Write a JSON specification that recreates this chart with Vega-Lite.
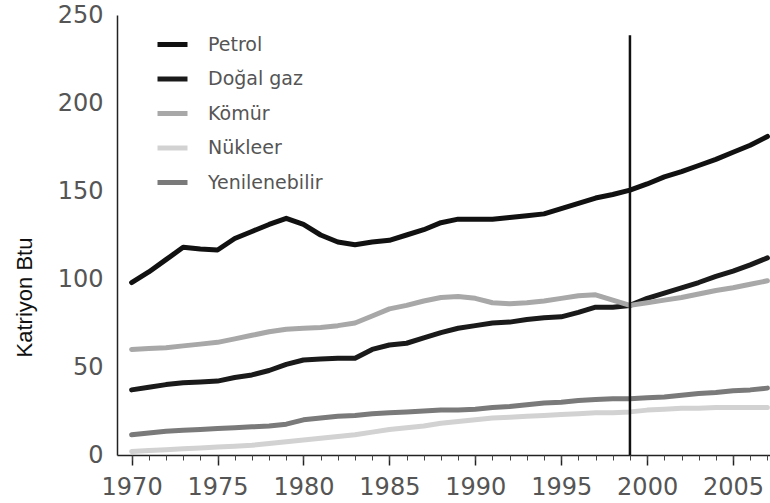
{
  "$schema": "https://vega.github.io/schema/vega-lite/v6.json",
  "width": 653,
  "height": 440,
  "autosize": {"type": "none"},
  "padding": {"left": 117, "top": 15, "right": 0, "bottom": 48},
  "background": "white",
  "config": {"view": {"stroke": null}, "font": "DejaVu Sans"},
  "datasets": {
    "enerji": [
      {"yil":1970,"kaynak":"Petrol","deger":98},{"yil":1971,"kaynak":"Petrol","deger":104},{"yil":1972,"kaynak":"Petrol","deger":111},{"yil":1973,"kaynak":"Petrol","deger":118},{"yil":1974,"kaynak":"Petrol","deger":117},{"yil":1975,"kaynak":"Petrol","deger":116.5},{"yil":1976,"kaynak":"Petrol","deger":123},{"yil":1977,"kaynak":"Petrol","deger":127},{"yil":1978,"kaynak":"Petrol","deger":131},{"yil":1979,"kaynak":"Petrol","deger":134.5},
      {"yil":1980,"kaynak":"Petrol","deger":131},{"yil":1981,"kaynak":"Petrol","deger":125},{"yil":1982,"kaynak":"Petrol","deger":121},{"yil":1983,"kaynak":"Petrol","deger":119.5},{"yil":1984,"kaynak":"Petrol","deger":121},{"yil":1985,"kaynak":"Petrol","deger":122},{"yil":1986,"kaynak":"Petrol","deger":125},{"yil":1987,"kaynak":"Petrol","deger":128},{"yil":1988,"kaynak":"Petrol","deger":132},{"yil":1989,"kaynak":"Petrol","deger":134},
      {"yil":1990,"kaynak":"Petrol","deger":134},{"yil":1991,"kaynak":"Petrol","deger":134},{"yil":1992,"kaynak":"Petrol","deger":135},{"yil":1993,"kaynak":"Petrol","deger":136},{"yil":1994,"kaynak":"Petrol","deger":137},{"yil":1995,"kaynak":"Petrol","deger":140},{"yil":1996,"kaynak":"Petrol","deger":143},{"yil":1997,"kaynak":"Petrol","deger":146},{"yil":1998,"kaynak":"Petrol","deger":148},{"yil":1999,"kaynak":"Petrol","deger":150.5},
      {"yil":2000,"kaynak":"Petrol","deger":154},{"yil":2001,"kaynak":"Petrol","deger":158},{"yil":2002,"kaynak":"Petrol","deger":161},{"yil":2003,"kaynak":"Petrol","deger":164.5},{"yil":2004,"kaynak":"Petrol","deger":168},{"yil":2005,"kaynak":"Petrol","deger":172},{"yil":2006,"kaynak":"Petrol","deger":176},{"yil":2007,"kaynak":"Petrol","deger":181},

      {"yil":1970,"kaynak":"Doğal gaz","deger":37},{"yil":1971,"kaynak":"Doğal gaz","deger":38.5},{"yil":1972,"kaynak":"Doğal gaz","deger":40},{"yil":1973,"kaynak":"Doğal gaz","deger":41},{"yil":1974,"kaynak":"Doğal gaz","deger":41.5},{"yil":1975,"kaynak":"Doğal gaz","deger":42},{"yil":1976,"kaynak":"Doğal gaz","deger":44},{"yil":1977,"kaynak":"Doğal gaz","deger":45.5},{"yil":1978,"kaynak":"Doğal gaz","deger":48},{"yil":1979,"kaynak":"Doğal gaz","deger":51.5},
      {"yil":1980,"kaynak":"Doğal gaz","deger":54},{"yil":1981,"kaynak":"Doğal gaz","deger":54.5},{"yil":1982,"kaynak":"Doğal gaz","deger":55},{"yil":1983,"kaynak":"Doğal gaz","deger":55},{"yil":1984,"kaynak":"Doğal gaz","deger":60},{"yil":1985,"kaynak":"Doğal gaz","deger":62.5},{"yil":1986,"kaynak":"Doğal gaz","deger":63.5},{"yil":1987,"kaynak":"Doğal gaz","deger":66.5},{"yil":1988,"kaynak":"Doğal gaz","deger":69.5},{"yil":1989,"kaynak":"Doğal gaz","deger":72},
      {"yil":1990,"kaynak":"Doğal gaz","deger":73.5},{"yil":1991,"kaynak":"Doğal gaz","deger":75},{"yil":1992,"kaynak":"Doğal gaz","deger":75.5},{"yil":1993,"kaynak":"Doğal gaz","deger":77},{"yil":1994,"kaynak":"Doğal gaz","deger":78},{"yil":1995,"kaynak":"Doğal gaz","deger":78.5},{"yil":1996,"kaynak":"Doğal gaz","deger":81},{"yil":1997,"kaynak":"Doğal gaz","deger":84},{"yil":1998,"kaynak":"Doğal gaz","deger":84},{"yil":1999,"kaynak":"Doğal gaz","deger":85},
      {"yil":2000,"kaynak":"Doğal gaz","deger":89},{"yil":2001,"kaynak":"Doğal gaz","deger":92},{"yil":2002,"kaynak":"Doğal gaz","deger":95},{"yil":2003,"kaynak":"Doğal gaz","deger":98},{"yil":2004,"kaynak":"Doğal gaz","deger":101.5},{"yil":2005,"kaynak":"Doğal gaz","deger":104.5},{"yil":2006,"kaynak":"Doğal gaz","deger":108},{"yil":2007,"kaynak":"Doğal gaz","deger":112},

      {"yil":1970,"kaynak":"Kömür","deger":60},{"yil":1971,"kaynak":"Kömür","deger":60.5},{"yil":1972,"kaynak":"Kömür","deger":61},{"yil":1973,"kaynak":"Kömür","deger":62},{"yil":1974,"kaynak":"Kömür","deger":63},{"yil":1975,"kaynak":"Kömür","deger":64},{"yil":1976,"kaynak":"Kömür","deger":66},{"yil":1977,"kaynak":"Kömür","deger":68},{"yil":1978,"kaynak":"Kömür","deger":70},{"yil":1979,"kaynak":"Kömür","deger":71.5},
      {"yil":1980,"kaynak":"Kömür","deger":72},{"yil":1981,"kaynak":"Kömür","deger":72.5},{"yil":1982,"kaynak":"Kömür","deger":73.5},{"yil":1983,"kaynak":"Kömür","deger":75},{"yil":1984,"kaynak":"Kömür","deger":79},{"yil":1985,"kaynak":"Kömür","deger":83},{"yil":1986,"kaynak":"Kömür","deger":85},{"yil":1987,"kaynak":"Kömür","deger":87.5},{"yil":1988,"kaynak":"Kömür","deger":89.5},{"yil":1989,"kaynak":"Kömür","deger":90},
      {"yil":1990,"kaynak":"Kömür","deger":89},{"yil":1991,"kaynak":"Kömür","deger":86.5},{"yil":1992,"kaynak":"Kömür","deger":86},{"yil":1993,"kaynak":"Kömür","deger":86.5},{"yil":1994,"kaynak":"Kömür","deger":87.5},{"yil":1995,"kaynak":"Kömür","deger":89},{"yil":1996,"kaynak":"Kömür","deger":90.5},{"yil":1997,"kaynak":"Kömür","deger":91},{"yil":1998,"kaynak":"Kömür","deger":88},{"yil":1999,"kaynak":"Kömür","deger":85},
      {"yil":2000,"kaynak":"Kömür","deger":86.5},{"yil":2001,"kaynak":"Kömür","deger":88},{"yil":2002,"kaynak":"Kömür","deger":89.5},{"yil":2003,"kaynak":"Kömür","deger":91.5},{"yil":2004,"kaynak":"Kömür","deger":93.5},{"yil":2005,"kaynak":"Kömür","deger":95},{"yil":2006,"kaynak":"Kömür","deger":97},{"yil":2007,"kaynak":"Kömür","deger":99},

      {"yil":1970,"kaynak":"Nükleer","deger":2},{"yil":1971,"kaynak":"Nükleer","deger":2.5},{"yil":1972,"kaynak":"Nükleer","deger":3},{"yil":1973,"kaynak":"Nükleer","deger":3.5},{"yil":1974,"kaynak":"Nükleer","deger":4},{"yil":1975,"kaynak":"Nükleer","deger":4.5},{"yil":1976,"kaynak":"Nükleer","deger":5},{"yil":1977,"kaynak":"Nükleer","deger":5.5},{"yil":1978,"kaynak":"Nükleer","deger":6.5},{"yil":1979,"kaynak":"Nükleer","deger":7.5},
      {"yil":1980,"kaynak":"Nükleer","deger":8.5},{"yil":1981,"kaynak":"Nükleer","deger":9.5},{"yil":1982,"kaynak":"Nükleer","deger":10.5},{"yil":1983,"kaynak":"Nükleer","deger":11.5},{"yil":1984,"kaynak":"Nükleer","deger":13},{"yil":1985,"kaynak":"Nükleer","deger":14.5},{"yil":1986,"kaynak":"Nükleer","deger":15.5},{"yil":1987,"kaynak":"Nükleer","deger":16.5},{"yil":1988,"kaynak":"Nükleer","deger":18},{"yil":1989,"kaynak":"Nükleer","deger":19},
      {"yil":1990,"kaynak":"Nükleer","deger":20},{"yil":1991,"kaynak":"Nükleer","deger":21},{"yil":1992,"kaynak":"Nükleer","deger":21.5},{"yil":1993,"kaynak":"Nükleer","deger":22},{"yil":1994,"kaynak":"Nükleer","deger":22.5},{"yil":1995,"kaynak":"Nükleer","deger":23},{"yil":1996,"kaynak":"Nükleer","deger":23.5},{"yil":1997,"kaynak":"Nükleer","deger":24},{"yil":1998,"kaynak":"Nükleer","deger":24},{"yil":1999,"kaynak":"Nükleer","deger":24.5},
      {"yil":2000,"kaynak":"Nükleer","deger":25.5},{"yil":2001,"kaynak":"Nükleer","deger":26},{"yil":2002,"kaynak":"Nükleer","deger":26.5},{"yil":2003,"kaynak":"Nükleer","deger":26.5},{"yil":2004,"kaynak":"Nükleer","deger":27},{"yil":2005,"kaynak":"Nükleer","deger":27},{"yil":2006,"kaynak":"Nükleer","deger":27},{"yil":2007,"kaynak":"Nükleer","deger":27},

      {"yil":1970,"kaynak":"Yenilenebilir","deger":11.5},{"yil":1971,"kaynak":"Yenilenebilir","deger":12.5},{"yil":1972,"kaynak":"Yenilenebilir","deger":13.5},{"yil":1973,"kaynak":"Yenilenebilir","deger":14},{"yil":1974,"kaynak":"Yenilenebilir","deger":14.5},{"yil":1975,"kaynak":"Yenilenebilir","deger":15},{"yil":1976,"kaynak":"Yenilenebilir","deger":15.5},{"yil":1977,"kaynak":"Yenilenebilir","deger":16},{"yil":1978,"kaynak":"Yenilenebilir","deger":16.5},{"yil":1979,"kaynak":"Yenilenebilir","deger":17.5},
      {"yil":1980,"kaynak":"Yenilenebilir","deger":20},{"yil":1981,"kaynak":"Yenilenebilir","deger":21},{"yil":1982,"kaynak":"Yenilenebilir","deger":22},{"yil":1983,"kaynak":"Yenilenebilir","deger":22.5},{"yil":1984,"kaynak":"Yenilenebilir","deger":23.5},{"yil":1985,"kaynak":"Yenilenebilir","deger":24},{"yil":1986,"kaynak":"Yenilenebilir","deger":24.5},{"yil":1987,"kaynak":"Yenilenebilir","deger":25},{"yil":1988,"kaynak":"Yenilenebilir","deger":25.5},{"yil":1989,"kaynak":"Yenilenebilir","deger":25.5},
      {"yil":1990,"kaynak":"Yenilenebilir","deger":26},{"yil":1991,"kaynak":"Yenilenebilir","deger":27},{"yil":1992,"kaynak":"Yenilenebilir","deger":27.5},{"yil":1993,"kaynak":"Yenilenebilir","deger":28.5},{"yil":1994,"kaynak":"Yenilenebilir","deger":29.5},{"yil":1995,"kaynak":"Yenilenebilir","deger":30},{"yil":1996,"kaynak":"Yenilenebilir","deger":31},{"yil":1997,"kaynak":"Yenilenebilir","deger":31.5},{"yil":1998,"kaynak":"Yenilenebilir","deger":32},{"yil":1999,"kaynak":"Yenilenebilir","deger":32},
      {"yil":2000,"kaynak":"Yenilenebilir","deger":32.5},{"yil":2001,"kaynak":"Yenilenebilir","deger":33},{"yil":2002,"kaynak":"Yenilenebilir","deger":34},{"yil":2003,"kaynak":"Yenilenebilir","deger":35},{"yil":2004,"kaynak":"Yenilenebilir","deger":35.5},{"yil":2005,"kaynak":"Yenilenebilir","deger":36.5},{"yil":2006,"kaynak":"Yenilenebilir","deger":37},{"yil":2007,"kaynak":"Yenilenebilir","deger":38}
    ],
    "ayrim": [{"yil": 1999, "alt": 0, "ust": 238.5}]
  },
  "layer": [
    {
      "data": {"name": "enerji"},
      "mark": {"type": "line", "strokeWidth": 5, "strokeJoin": "round", "strokeCap": "round"},
      "encoding": {
        "x": {
          "field": "yil", "type": "quantitative",
          "scale": {"domain": [1969.15, 2007.15], "nice": false, "zero": false},
          "axis": {
            "orient": "bottom",
            "values": [1970, 1975, 1980, 1985, 1990, 1995, 2000, 2005],
            "format": "d", "title": null, "grid": false,
            "tickSize": 10, "tickColor": "#222", "tickWidth": 1.5,
            "domainColor": "#222", "domainWidth": 1.5,
            "labelFontSize": 24, "labelColor": "#555", "labelFont": "DejaVu Sans",
            "labelPadding": 10, "labelFlush": false, "labelOverlap": false
          }
        },
        "y": {
          "field": "deger", "type": "quantitative",
          "scale": {"domain": [0, 250], "nice": false},
          "axis": {
            "values": [0, 50, 100, 150, 200, 250],
            "title": "Katriyon Btu", "grid": false,
            "tickSize": 0, "tickColor": "#222", "tickWidth": 1.5,
            "domainColor": "#222", "domainWidth": 1.5,
            "labelFontSize": 24, "labelColor": "#555", "labelFont": "DejaVu Sans",
            "labelPadding": 14, "labelFlush": false, "labelOverlap": false,
            "titleFont": "Liberation Sans", "titleFontSize": 22, "titleFontWeight": "normal",
            "titleColor": "#111", "titleX": -93, "titleY": 282, "titleAngle": -90,
            "titleAlign": "center", "titleBaseline": "middle"
          }
        },
        "color": {
          "field": "kaynak", "type": "nominal",
          "scale": {
            "domain": ["Petrol", "Doğal gaz", "Kömür", "Nükleer", "Yenilenebilir"],
            "range": ["#111111", "#1a1a1a", "#a8a8a8", "#d2d2d2", "#7a7a7a"]
          },
          "legend": {
            "orient": "none", "legendX": 38, "legendY": 12, "title": null,
            "symbolType": "stroke", "symbolSize": 900, "symbolStrokeWidth": 5,
            "labelFontSize": 19, "labelColor": "#555", "labelFont": "DejaVu Sans",
            "rowPadding": 6.5, "labelOffset": 18, "padding": 0
          }
        }
      }
    },
    {
      "data": {"name": "ayrim"},
      "mark": {"type": "rule", "color": "#111", "strokeWidth": 2.5},
      "encoding": {
        "x": {
          "field": "yil", "type": "quantitative",
          "axis": {
            "orient": "bottom",
            "values": [1969, 1970, 1971, 1972, 1973, 1974, 1975, 1976, 1977, 1978, 1979, 1980, 1981, 1982, 1983, 1984, 1985, 1986, 1987, 1988, 1989, 1990, 1991, 1992, 1993, 1994, 1995, 1996, 1997, 1998, 1999, 2000, 2001, 2002, 2003, 2004, 2005, 2006, 2007],
            "labels": false, "domain": false, "title": null, "grid": false,
            "tickSize": 5, "tickColor": "#444", "tickWidth": 1
          }
        },
        "y": {"field": "alt", "type": "quantitative"},
        "y2": {"field": "ust"}
      }
    }
  ],
  "resolve": {"axis": {"x": "independent"}}
}
